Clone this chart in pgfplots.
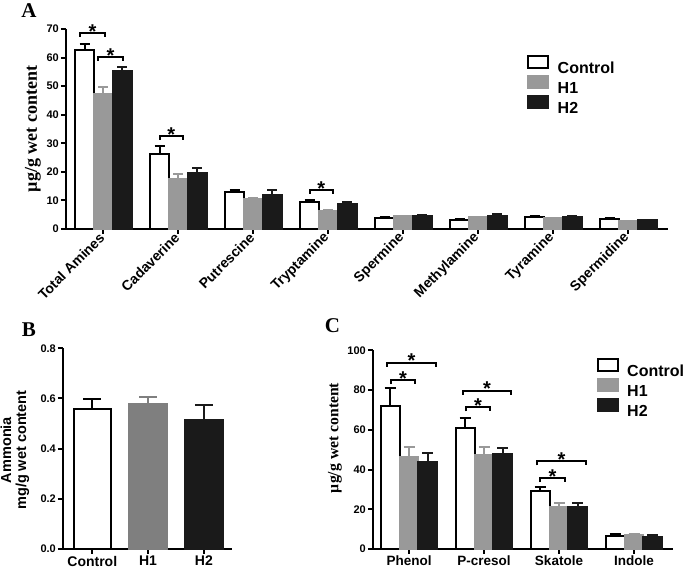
\documentclass[border=0pt]{standalone}
\usepackage{fontspec}
\setmainfont{Liberation Sans}
\newfontfamily\tnr{Liberation Serif}
\usepackage{pgfplots}
\usepackage{pgfplotstable}
\pgfplotsset{compat=1.18}
\definecolor{gA}{HTML}{999999}
\definecolor{gB}{HTML}{7F7F7F}
\definecolor{dk}{HTML}{1A1A1A}
% Panel A data: category index, mean and upper error for Control, H1, H2
\pgfplotstableread{
x   c     ce   h1    h1e  h2    h2e
0   62.6  2.3  47.4  2.4  55.4  1.4
1   26.4  2.8  17.4  2.0  19.7  1.8
2   12.8  0.8  10.4  0.6  12.0  1.6
3   9.3   0.9  6.3   0.4  8.6   1.0
4   3.7   0.4  4.4   0.1  4.5   0.3
5   3.0   0.5  4.1   0.2  4.5   0.7
6   4.2   0.3  3.7   0.2  4.2   0.3
7   3.4   0.4  2.8   0.1  3.0   0.2
}\tabA
% Panel B data
\pgfplotstableread{
x  y      e
0  0.560  0.036
1  0.576  0.028
2  0.513  0.061
}\tabB
% Panel C data
\pgfplotstableread{
x   c     ce   h1    h1e  h2    h2e
0   72.0  9.2  46.5  5.0  43.6  4.6
1   61.1  4.7  47.2  4.3  47.7  3.1
2   29.4  2.0  21.3  1.7  21.3  1.7
3   6.7   1.0  7.0   0.7  6.2   0.6
}\tabC
\pgfplotsset{
  panel/.style={scale only axis, axis x line=bottom, axis y line=left,
    axis line style={-, line width=2pt, black},
    tick align=outside, major tick length=5pt,
    tick style={line width=2pt, black},
    ymin=0, clip=false,
    /pgf/number format/assume math mode=true,
    yticklabel style={font=\bfseries\fontsize{11}{11}\selectfont, inner sep=2pt},
  },
  mylegend/.style={legend image code/.code={\draw[##1] (0pt,-0.3pt) rectangle (20pt,11.7pt); \path (27pt,0pt);}},
  mylegstyle/.style={legend style={draw=none, fill=none, inner sep=0pt,
     font=\bfseries\fontsize{16}{16}\selectfont, row sep=0pt,
     nodes={inner sep=1.5pt, text height=11.6pt, text depth=0pt}}, legend cell align=left},
  barC/.style={ybar, bar width=#1, bar shift=0pt, fill=white, draw=black, line width=2pt,
     error bars/y dir=plus, error bars/y explicit,
     error bars/error bar style={line width=2pt, black}},
  barH1/.style={ybar, bar width=#1, bar shift=0pt, fill=gA, draw=gA, line width=2pt,
     error bars/y dir=plus, error bars/y explicit,
     error bars/error bar style={line width=2pt, gA}},
  barH2/.style={ybar, bar width=#1, bar shift=0pt, fill=dk, draw=dk, line width=2pt,
     error bars/y dir=plus, error bars/y explicit,
     error bars/error bar style={line width=2pt, dk}},
}
\newcommand{\brk}[5]{%
  \addplot[black, line width=2pt, forget plot, mark=none] coordinates {(#1,#4) (#1,#3) (#2,#3) (#2,#4)};
  \node[font=\bfseries\fontsize{20}{20}\selectfont, inner sep=0pt, anchor=south, yshift=-5.5pt] at (axis cs:#5,#3) {*};}
\begin{document}
\begin{tikzpicture}
\path[use as bounding box] (0pt,0pt) rectangle (685pt,569pt);
% ---------------- Panel A ----------------
\node[font=\tnr\bfseries\fontsize{21}{21}\selectfont] at (29pt,558.5pt) {A};
\begin{axis}[panel, at={(66pt,340pt)}, anchor=south west,
  width=602pt, height=200pt, xmin=-0.5, xmax=7.527, ymax=70,
  ytick={0,10,...,70},
  xtick={0,...,7},
  xticklabels={Total Amines,Cadaverine,Putrescine,Tryptamine,Spermine,Methylamine,Tyramine,Spermidine},
  xticklabel style={font=\bfseries\fontsize{14}{14}\selectfont, rotate=45, anchor=east, inner sep=2pt},
  ylabel={\tnr\bfseries\fontsize{18}{18}\selectfont µg/g wet content},
  ylabel style={at={(axis description cs:-0.0548,0.5)}, anchor=center},
  mylegstyle, legend style={at={(axis description cs:0.7658,0.872)}, anchor=north west},
]
\addplot[barC=0.253, mylegend, error bars/error mark options={rotate=90, line width=2pt, mark size=5pt, black}]
  table[x expr=\thisrow{x}-0.253, y=c, y error=ce] {\tabA};
\addlegendentry{Control}
\addplot[barH1=0.253, mylegend, error bars/error mark options={rotate=90, line width=2pt, mark size=5pt, gA}]
  table[x=x, y=h1, y error=h1e] {\tabA};
\addlegendentry{H1}
\addplot[barH2=0.253, mylegend, error bars/error mark options={rotate=90, line width=2pt, mark size=5pt, dk}]
  table[x expr=\thisrow{x}+0.253, y=h2, y error=h2e] {\tabA};
\addlegendentry{H2}
\brk{-0.31}{0.02}{68.6}{67.2}{-0.145}
\brk{-0.07}{0.26}{60.2}{58.8}{0.095}
\brk{0.75}{1.06}{32.6}{31.2}{0.905}
\brk{2.75}{3.06}{13.65}{12.25}{2.905}
\end{axis}
% ---------------- Panel B ----------------
\node[font=\tnr\bfseries\fontsize{21}{21}\selectfont] at (29pt,239.5pt) {B};
\begin{axis}[panel, at={(63pt,20pt)}, anchor=south west,
  width=169pt, height=200.7pt, xmin=-0.525, xmax=2.504, ymax=0.8,
  ytick={0,0.2,...,0.8},
  yticklabel style={/pgf/number format/fixed, /pgf/number format/fixed zerofill, /pgf/number format/precision=1},
  xtick={0,1,2}, xticklabels={Control,H1,H2},
  xticklabel style={font=\bfseries\fontsize{14}{14}\selectfont, inner sep=2pt},
  ylabel={Ammonia\\mg/g wet content},
  ylabel style={at={(axis description cs:-0.284,0.493)}, anchor=center, align=center,
     font=\bfseries\fontsize{14.5}{15}\selectfont},
]
\addplot[barC=0.67, error bars/error mark options={rotate=90, line width=2pt, mark size=9pt, black}]
  table[x=x, y=y, y error=e, skip coords between index={1}{3}] {\tabB};
\addplot[barC=0.67, fill=gB, draw=gB, error bars/error bar style={gB}, error bars/error mark options={rotate=90, line width=2pt, mark size=9pt, gB}]
  table[x=x, y=y, y error=e, skip coords between index={0}{1}, skip coords between index={2}{3}] {\tabB};
\addplot[barH2=0.67, error bars/error mark options={rotate=90, line width=2pt, mark size=9pt, dk}]
  table[x=x, y=y, y error=e, skip coords between index={0}{2}] {\tabB};
\end{axis}
% ---------------- Panel C ----------------
\node[font=\tnr\bfseries\fontsize{21}{21}\selectfont] at (332.5pt,243.5pt) {C};
\begin{axis}[panel, at={(373pt,20pt)}, anchor=south west,
  width=300pt, height=198.7pt, xmin=-0.48, xmax=3.52, ymax=100,
  ytick={0,20,...,100},
  xtick={0,...,3}, xticklabels={Phenol,P-cresol,Skatole,Indole},
  xticklabel style={font=\bfseries\fontsize{13.5}{13.5}\selectfont, inner sep=2pt},
  ylabel={\tnr\bfseries\fontsize{15.7}{15.7}\selectfont µg/g wet content},
  ylabel style={at={(axis description cs:-0.127,0.559)}, anchor=center},
  mylegstyle, legend style={at={(axis description cs:0.745,0.963)}, anchor=north west},
]
\addplot[barC=0.253, mylegend, error bars/error mark options={rotate=90, line width=2pt, mark size=5.5pt, black}]
  table[x expr=\thisrow{x}-0.253, y=c, y error=ce] {\tabC};
\addlegendentry{Control}
\addplot[barH1=0.253, mylegend, error bars/error mark options={rotate=90, line width=2pt, mark size=5.5pt, gA}]
  table[x=x, y=h1, y error=h1e] {\tabC};
\addlegendentry{H1}
\addplot[barH2=0.253, mylegend, error bars/error mark options={rotate=90, line width=2pt, mark size=5.5pt, dk}]
  table[x expr=\thisrow{x}+0.253, y=h2, y error=h2e] {\tabC};
\addlegendentry{H2}
\brk{-0.29}{0.36}{93.8}{91.8}{0.035}
\brk{-0.24}{0.08}{85.0}{83.0}{-0.08}
\brk{0.72}{1.36}{79.7}{77.7}{1.04}
\brk{0.76}{1.08}{71.3}{69.3}{0.92}
\brk{1.71}{2.36}{44.1}{42.1}{2.035}
\brk{1.75}{2.08}{35.7}{33.7}{1.915}
\end{axis}
\end{tikzpicture}
\end{document}
